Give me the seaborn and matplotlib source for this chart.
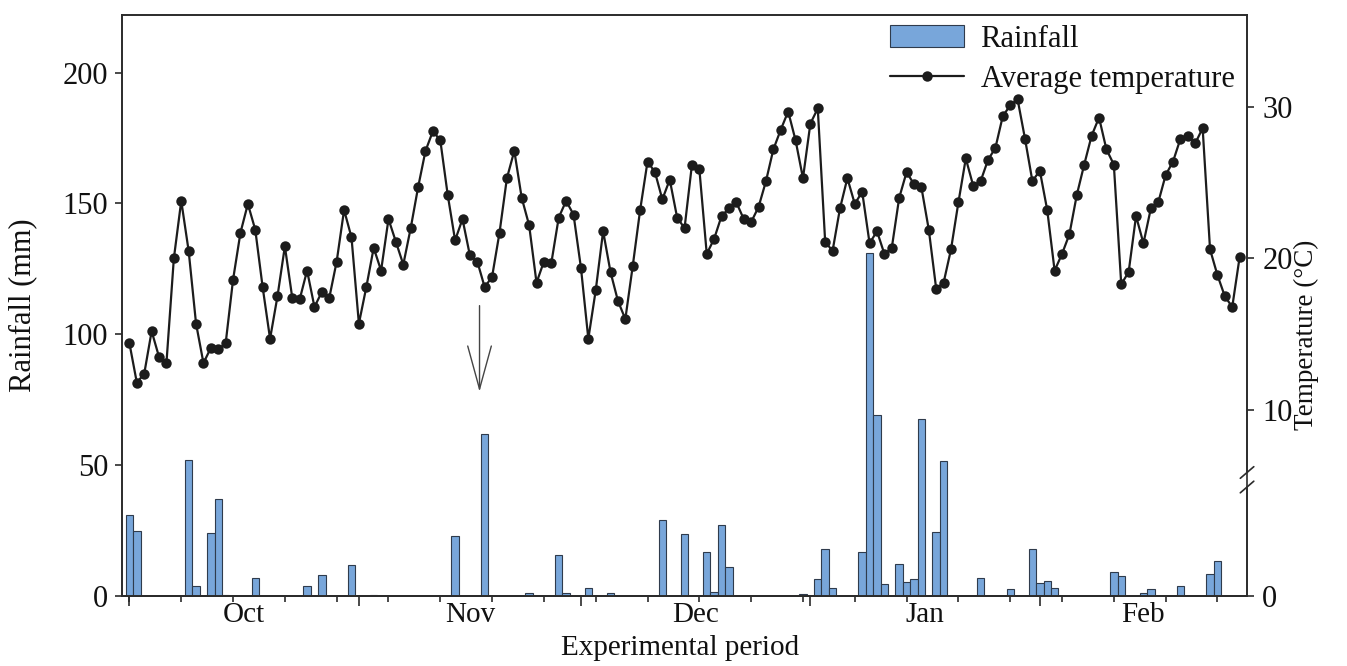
import numpy as np
import matplotlib
matplotlib.use("Agg")
import matplotlib.pyplot as plt
import seaborn as sns
from matplotlib.ticker import NullLocator

# ---------------- data ----------------
months = ["Oct", "Nov", "Dec", "Jan", "Feb"]
month_start = [0, 31, 61, 92, 123]
month_len = [31, 30, 31, 31, 28]

# daily average temperature, 1 Oct .. 28 Feb (151 days)
temp = [14.4, 11.8, 12.4, 15.2, 13.5, 13.1, 20.0, 23.8, 20.5, 15.7, 13.1, 14.1, 14.0,
        14.4, 18.6, 21.7, 23.6, 21.9, 18.1, 14.7, 17.5, 20.8, 17.4, 17.3, 19.2, 16.8,
        17.8, 17.4, 19.8, 23.2, 21.4, 15.7, 18.1, 20.7, 19.2, 22.6, 21.1, 19.6, 22.0,
        24.7, 27.1, 28.4, 27.8, 24.2, 21.2, 22.6, 20.2, 19.8, 18.1, 18.8, 21.7,
        25.3, 27.1, 24.0, 22.2, 18.4, 19.8, 19.7, 22.7, 23.8, 22.9, 19.4, 14.7, 17.9,
        21.8, 19.1, 17.2, 16.0, 19.5, 23.2, 26.4, 25.7, 23.9, 25.2, 22.7, 22.0,
        26.2, 25.9, 20.3, 21.3, 22.8, 23.3, 23.7, 22.6, 22.4, 23.4, 25.1, 27.2, 28.5,
        29.7, 27.8, 25.3, 28.9, 29.9, 21.1, 20.5, 23.3, 25.3, 23.6, 24.4, 21.0,
        21.8, 20.3, 20.7, 24.0, 25.7, 24.9, 24.7, 21.9, 18.0, 18.4, 20.6, 23.7, 26.6,
        24.8, 25.1, 26.5, 27.3, 29.4, 30.1, 30.5, 27.9, 25.1, 25.8, 23.2, 19.2,
        20.3, 21.6, 24.2, 26.2, 28.1, 29.3, 27.2, 26.2, 18.3, 19.1, 22.8, 21.0, 23.3,
        23.7, 25.5, 26.4, 27.9, 28.1, 27.6, 28.6, 20.6, 18.9, 17.5, 16.8, 20.1]
days = list(range(len(temp)))

# rainy days (day index from 1 Oct) and rainfall (mm)
rain_day = [0, 1, 8, 9, 11, 12, 13, 17, 24, 26, 30, 33, 44, 48, 54, 58, 59, 62, 65,
            72, 75, 78, 79, 80, 81, 91, 93, 94, 95, 99, 100, 101, 102, 104, 105, 106,
            107, 109, 110, 115, 119, 122, 123, 124, 125, 133, 134, 137, 138, 142, 146, 147]
rain_mm = [31, 25, 52, 4, 24, 37, 0.5, 7, 4, 8, 12, 0.5, 23, 62, 1, 15.6, 1, 3, 1,
           29, 23.5, 17, 1.7, 27, 11, 0.7, 6.6, 18, 3, 17, 131, 69, 4.4, 12.3, 5.5, 6.4,
           67.7, 24.3, 51.4, 7, 2.6, 17.8, 4.8, 5.8, 3.1, 9.3, 7.7, 1.2, 2.5, 4, 8.4, 13.5]

rain_ticks = [0, 50, 100, 150, 200]
temp_ticks = [0, 10, 20, 30]

# ---------------- style ----------------
sns.set_theme(style="ticks")
plt.rcParams["font.family"] = ["Liberation Serif", "DejaVu Serif"]
FS = 22
FSX = 21
EDGE = "#2b2b2b"

fig = plt.figure(figsize=(13.47, 6.66), dpi=100)
ax = fig.add_axes([0.0906, 0.1051, 0.8352, 0.8724])

sns.barplot(x=rain_day, y=rain_mm, native_scale=True, width=1.0, orient="x",
            color="#78A6DA", edgecolor="#2F3B4C", linewidth=0.8, saturation=1,
            errorbar=None, label="Rainfall", ax=ax)
if ax.get_legend() is not None:
    ax.get_legend().remove()

ax.set_xlim(-1, 151)
ax.set_ylim(0, 222)
ax.set_yticks(rain_ticks)
ax.set_yticklabels([str(v) for v in rain_ticks])
ax.tick_params(axis="y", direction="out", length=5, width=1.2, pad=5,
               labelsize=FS, colors=EDGE, labelcolor="#111111")

# month labels at month centres, weekly minor ticks
centres = [s + l / 2 for s, l in zip(month_start, month_len)]
ax.set_xticks(centres)
ax.set_xticklabels(months)
ax.xaxis.set_minor_locator(matplotlib.ticker.FixedLocator(np.arange(0, 151, 7)))
ax.tick_params(axis="x", which="major", length=0, pad=4.2, labelsize=FSX,
               labelcolor="#111111")
ax.tick_params(axis="x", which="minor", direction="out", length=4, width=1.2,
               color=EDGE)
# long ticks at month boundaries
sec = ax.secondary_xaxis("bottom")
sec.set_xticks(month_start)
sec.set_xticklabels([""] * len(month_start))
sec.tick_params(axis="x", direction="out", length=7.5, width=1.2, color=EDGE)
sec.xaxis.set_minor_locator(NullLocator())

for s in ax.spines.values():
    s.set_color(EDGE)
    s.set_linewidth(1.2)

ax.set_ylabel("Rainfall (mm)", fontsize=FS, color="#111111")
ax.yaxis.set_label_coords(-0.075, 0.5)
ax.set_xlabel("Experimental period", fontsize=FSX, color="#111111")
ax.xaxis.set_label_coords(0.496, -0.0665)

# ---------------- temperature axis with a break ----------------
ax2 = ax.twinx()
B, K = 5.0, 1.4554


def fwd(t):
    t = np.asarray(t, dtype=float)
    return np.where(t < B, t * K, t + B * (K - 1))


def inv(u):
    u = np.asarray(u, dtype=float)
    return np.where(u < B * K, u / K, u - B * (K - 1))


sns.lineplot(x=days, y=temp, ax=ax2, color="#1c1c1c", linewidth=1.6,
             marker="o", markersize=7.5, markeredgewidth=0,
             markerfacecolor="#1c1c1c", label="Average temperature")
ax2.set_yscale("function", functions=(fwd, inv))
ax2.set_ylim(0, 36.07)
ax2.set_yticks(temp_ticks)
ax2.set_yticklabels([str(v) for v in temp_ticks])
ax2.yaxis.set_minor_locator(NullLocator())
ax2.tick_params(axis="y", direction="out", length=5, width=1.2, pad=6,
                labelsize=FS, colors=EDGE, labelcolor="#111111")
ax2.set_ylabel("Temperature (°C)", fontsize=19.5, color="#111111")
ax2.yaxis.set_label_coords(1.042, 0.449)
for s in ax2.spines.values():
    s.set_color(EDGE)
    s.set_linewidth(1.2)

# axis break on the right spine
y_lo, y_hi = 0.1876, 0.2126
ax2.spines["right"].set_visible(False)
tr = ax2.transAxes
ax2.plot([1, 1], [0, y_lo], transform=tr, color=EDGE, lw=1.2, clip_on=False)
ax2.plot([1, 1], [y_hi, 1], transform=tr, color=EDGE, lw=1.2, clip_on=False)
dx, dy = 0.006, 0.010
for yc in (y_lo, y_hi):
    ax2.plot([1 - dx, 1 + dx], [yc - dy, yc + dy], transform=tr, color=EDGE,
             lw=1.2, clip_on=False)

# arrow marking an event
ax.annotate("", xy=(47.3, 77), xytext=(47.3, 112),
            arrowprops=dict(arrowstyle="->,head_length=3.1,head_width=0.85",
                            color="#444444", lw=1.0, mutation_scale=10))

# legend
h1, l1 = ax.get_legend_handles_labels()
h2, l2 = ax2.get_legend_handles_labels()
leg = ax2.legend(h1 + h2, l1 + l2, loc="upper left", bbox_to_anchor=(0.683, 0.983),
                 frameon=False, fontsize=FS, borderpad=0, borderaxespad=0,
                 handlelength=2.4, handletextpad=0.55, labelspacing=0.36)
for t in leg.get_texts():
    t.set_color("#111111")

fig.savefig("out.png", dpi=100)
